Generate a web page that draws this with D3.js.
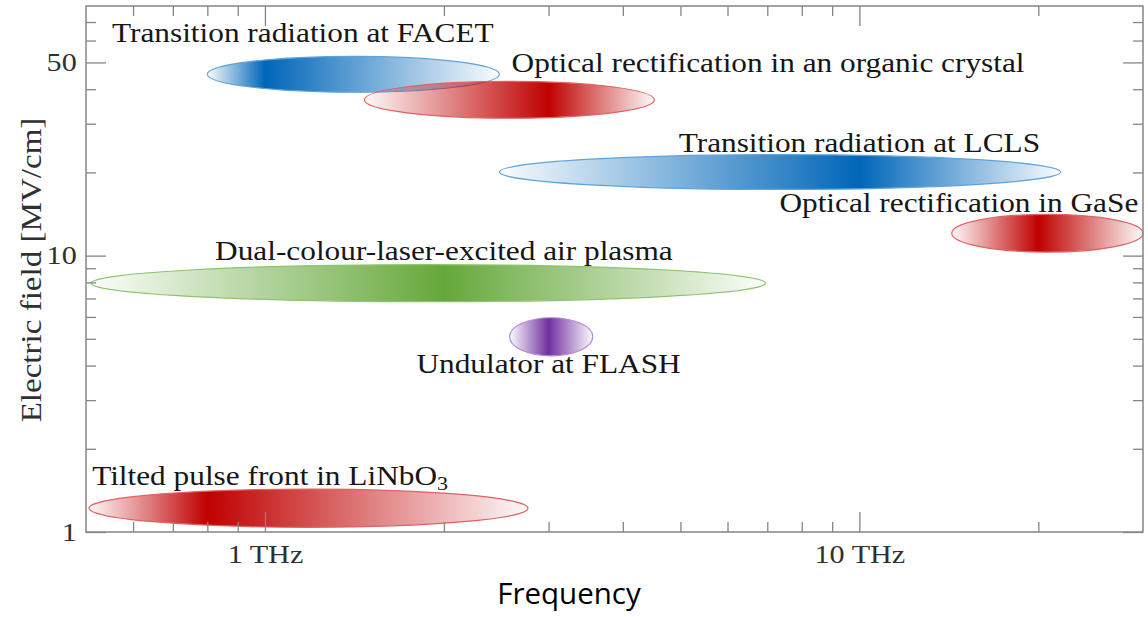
<!DOCTYPE html>
<html>
<head>
<meta charset="utf-8">
<script src="https://cdn.jsdelivr.net/npm/d3@7"></script>
<style>
  html, body { margin: 0; padding: 0; background: #fff; }
  svg { display: block; }
</style>
</head>
<body>
<svg id="chart" width="1148" height="617"></svg>
<script>
// ---------- data ----------
const sources = [
  "Transition radiation at FACET",
  "Optical rectification in an organic crystal",
  "Transition radiation at LCLS",
  "Optical rectification in GaSe",
  "Dual-colour-laser-excited air plasma",
  "Undulator at FLASH",
  "Tilted pulse front in LiNbO"
];
const subscripts = ["", "", "", "", "", "", "3"];
// frequency extent (THz) and peak frequency
const freqMin  = [0.80, 1.47, 2.48, 14.3, 0.51, 2.58, 0.506];
const freqMax  = [2.48, 4.52, 21.8, 30.0, 6.95, 3.56, 2.77];
const freqPeak = [1.00, 3.00, 10.0, 20.0, 2.00, 3.00, 0.80];
// electric field extent (MV/cm)
const fieldMin = [39.0, 31.4, 17.35, 10.3, 6.81, 4.34, 1.04];
const fieldMax = [52.6, 42.7, 23.2, 14.1, 9.28, 5.96, 1.43];
// label anchors (centre frequency, baseline field)
const labelFreq  = [1.158, 7.02, 10.0, 14.7, 2.00, 3.00, 1.02];
const labelField = [59.1, 46.0, 23.8, 14.43, 9.67, 3.77, 1.48];
// axis ticks
const xMajorTicks = [1, 10];
const xMajorLabels = ["1 THz", "10 THz"];
const xMinorTicks = [0.6, 0.7, 0.8, 0.9, 2, 3, 4, 5, 6, 7, 8, 9, 20];
const yMajorTicks = [1, 10, 50];
const yMajorLabels = ["1", "10", "50"];
const yMinorTicks = [2, 3, 4, 5, 6, 7, 8, 9, 20, 30, 40, 60, 70];
const xDomain = [0.5, 30];
const yDomain = [1, 80];

// ---------- styles ----------
const palette = [
  { peak: "#0066b8", edge: "#5ea4dc" },
  { peak: "#c00000", edge: "#e06262" },
  { peak: "#0066b8", edge: "#5ea4dc" },
  { peak: "#c00000", edge: "#e06262" },
  { peak: "#65a83a", edge: "#8cc46c" },
  { peak: "#7030a0", edge: "#b487dc" },
  { peak: "#c00000", edge: "#e06262" }
];
const serif = "'Liberation Serif', 'Times New Roman', serif";
const stretch = "scale(1.16,1)";
const frameColor = "#858585";

const svg = d3.select("#chart");
const pLeft = 86, pRight = 1143, pTop = 6, pBottom = 532;
const x = d3.scaleLog().domain(xDomain).range([pLeft, pRight]);
const y = d3.scaleLog().domain(yDomain).range([pBottom, pTop]);

// gradients
const defs = svg.append("defs");
sources.forEach((s, i) => {
  const x0 = x(freqMin[i]), x1 = x(freqMax[i]);
  const p = (x(freqPeak[i]) - x0) / (x1 - x0);
  const g = defs.append("linearGradient")
    .attr("id", "grad" + i)
    .attr("x1", "0").attr("x2", "1").attr("y1", "0").attr("y2", "0");
  g.append("stop").attr("offset", 0).attr("stop-color", palette[i].peak).attr("stop-opacity", 0.02);
  g.append("stop").attr("offset", p).attr("stop-color", palette[i].peak).attr("stop-opacity", 1);
  g.append("stop").attr("offset", 1).attr("stop-color", palette[i].peak).attr("stop-opacity", 0.02);
});

// ellipses
const idx = d3.range(sources.length);
svg.append("g").selectAll("ellipse")
  .data(idx)
  .join("ellipse")
  .attr("cx", i => (x(freqMin[i]) + x(freqMax[i])) / 2)
  .attr("cy", i => (y(fieldMin[i]) + y(fieldMax[i])) / 2)
  .attr("rx", i => (x(freqMax[i]) - x(freqMin[i])) / 2)
  .attr("ry", i => (y(fieldMin[i]) - y(fieldMax[i])) / 2)
  .attr("fill", i => `url(#grad${i})`)
  .attr("stroke", i => palette[i].edge)
  .attr("stroke-width", 1.2);

// labels
const lab = svg.append("g").selectAll("g")
  .data(idx)
  .join("g")
  .attr("transform", i => `translate(${x(labelFreq[i])},${y(labelField[i])})`);
const lt = lab.append("text")
  .attr("transform", stretch)
  .attr("text-anchor", "middle")
  .attr("font-family", serif)
  .attr("font-size", 27)
  .attr("fill", "#161616");
lt.append("tspan").text(i => sources[i]);
lt.filter(i => subscripts[i] !== "").append("tspan")
  .attr("font-size", 19)
  .attr("dy", 5)
  .text(i => subscripts[i]);

// axes: ticks pointing inward
function styleAxis(g) {
  g.select(".domain").remove();
  g.selectAll("line").attr("stroke", frameColor).attr("stroke-width", 1.3);
}
svg.append("g").attr("transform", `translate(0,${pBottom})`)
  .call(d3.axisBottom(x).tickValues(xMinorTicks).tickSize(-10).tickSizeOuter(0).tickFormat(""))
  .call(styleAxis);
svg.append("g").attr("transform", `translate(0,${pTop})`)
  .call(d3.axisTop(x).tickValues(xMinorTicks).tickSize(-10).tickSizeOuter(0).tickFormat(""))
  .call(styleAxis);
svg.append("g").attr("transform", `translate(0,${pTop})`)
  .call(d3.axisTop(x).tickValues(xMajorTicks).tickSize(-20).tickSizeOuter(0).tickFormat(""))
  .call(styleAxis);
const xb = svg.append("g").attr("transform", `translate(0,${pBottom})`)
  .call(d3.axisBottom(x).tickValues(xMajorTicks).tickSize(-20).tickSizeOuter(0).tickPadding(13)
    .tickFormat((d, i) => xMajorLabels[i]))
  .call(styleAxis);
xb.selectAll("text")
  .attr("font-family", serif).attr("font-size", 26).attr("fill", "#303030")
  .attr("transform", stretch);

svg.append("g").attr("transform", `translate(${pLeft},0)`)
  .call(d3.axisLeft(y).tickValues(yMinorTicks).tickSize(-10).tickSizeOuter(0).tickFormat(""))
  .call(styleAxis);
svg.append("g").attr("transform", `translate(${pRight},0)`)
  .call(d3.axisRight(y).tickValues(yMinorTicks).tickSize(-10).tickSizeOuter(0).tickFormat(""))
  .call(styleAxis);
svg.append("g").attr("transform", `translate(${pRight},0)`)
  .call(d3.axisRight(y).tickValues(yMajorTicks).tickSize(-20).tickSizeOuter(0).tickFormat(""))
  .call(styleAxis);
const yl = svg.append("g").attr("transform", `translate(${pLeft},0)`)
  .call(d3.axisLeft(y).tickValues(yMajorTicks).tickSize(-20).tickSizeOuter(0).tickPadding(8)
    .tickFormat((d, i) => yMajorLabels[i]))
  .call(styleAxis);
yl.selectAll("text")
  .attr("font-family", serif).attr("font-size", 26).attr("fill", "#303030")
  .attr("transform", stretch);

// frame
svg.append("rect")
  .attr("x", pLeft).attr("y", pTop)
  .attr("width", pRight - pLeft).attr("height", pBottom - pTop)
  .attr("fill", "none").attr("stroke", frameColor).attr("stroke-width", 1.5);

// axis titles
svg.append("g").attr("transform", `translate(41,270) rotate(-90)`)
  .append("text")
  .attr("transform", stretch)
  .attr("text-anchor", "middle")
  .attr("font-family", serif).attr("font-size", 28.5).attr("fill", "#303030")
  .text("Electric field [MV/cm]");

svg.append("text")
  .attr("x", 569).attr("y", 604)
  .attr("text-anchor", "middle")
  .attr("font-family", "'Open Sans', sans-serif").attr("font-size", 29.5).attr("fill", "#000")
  .text("Frequency");
</script>
</body>
</html>
